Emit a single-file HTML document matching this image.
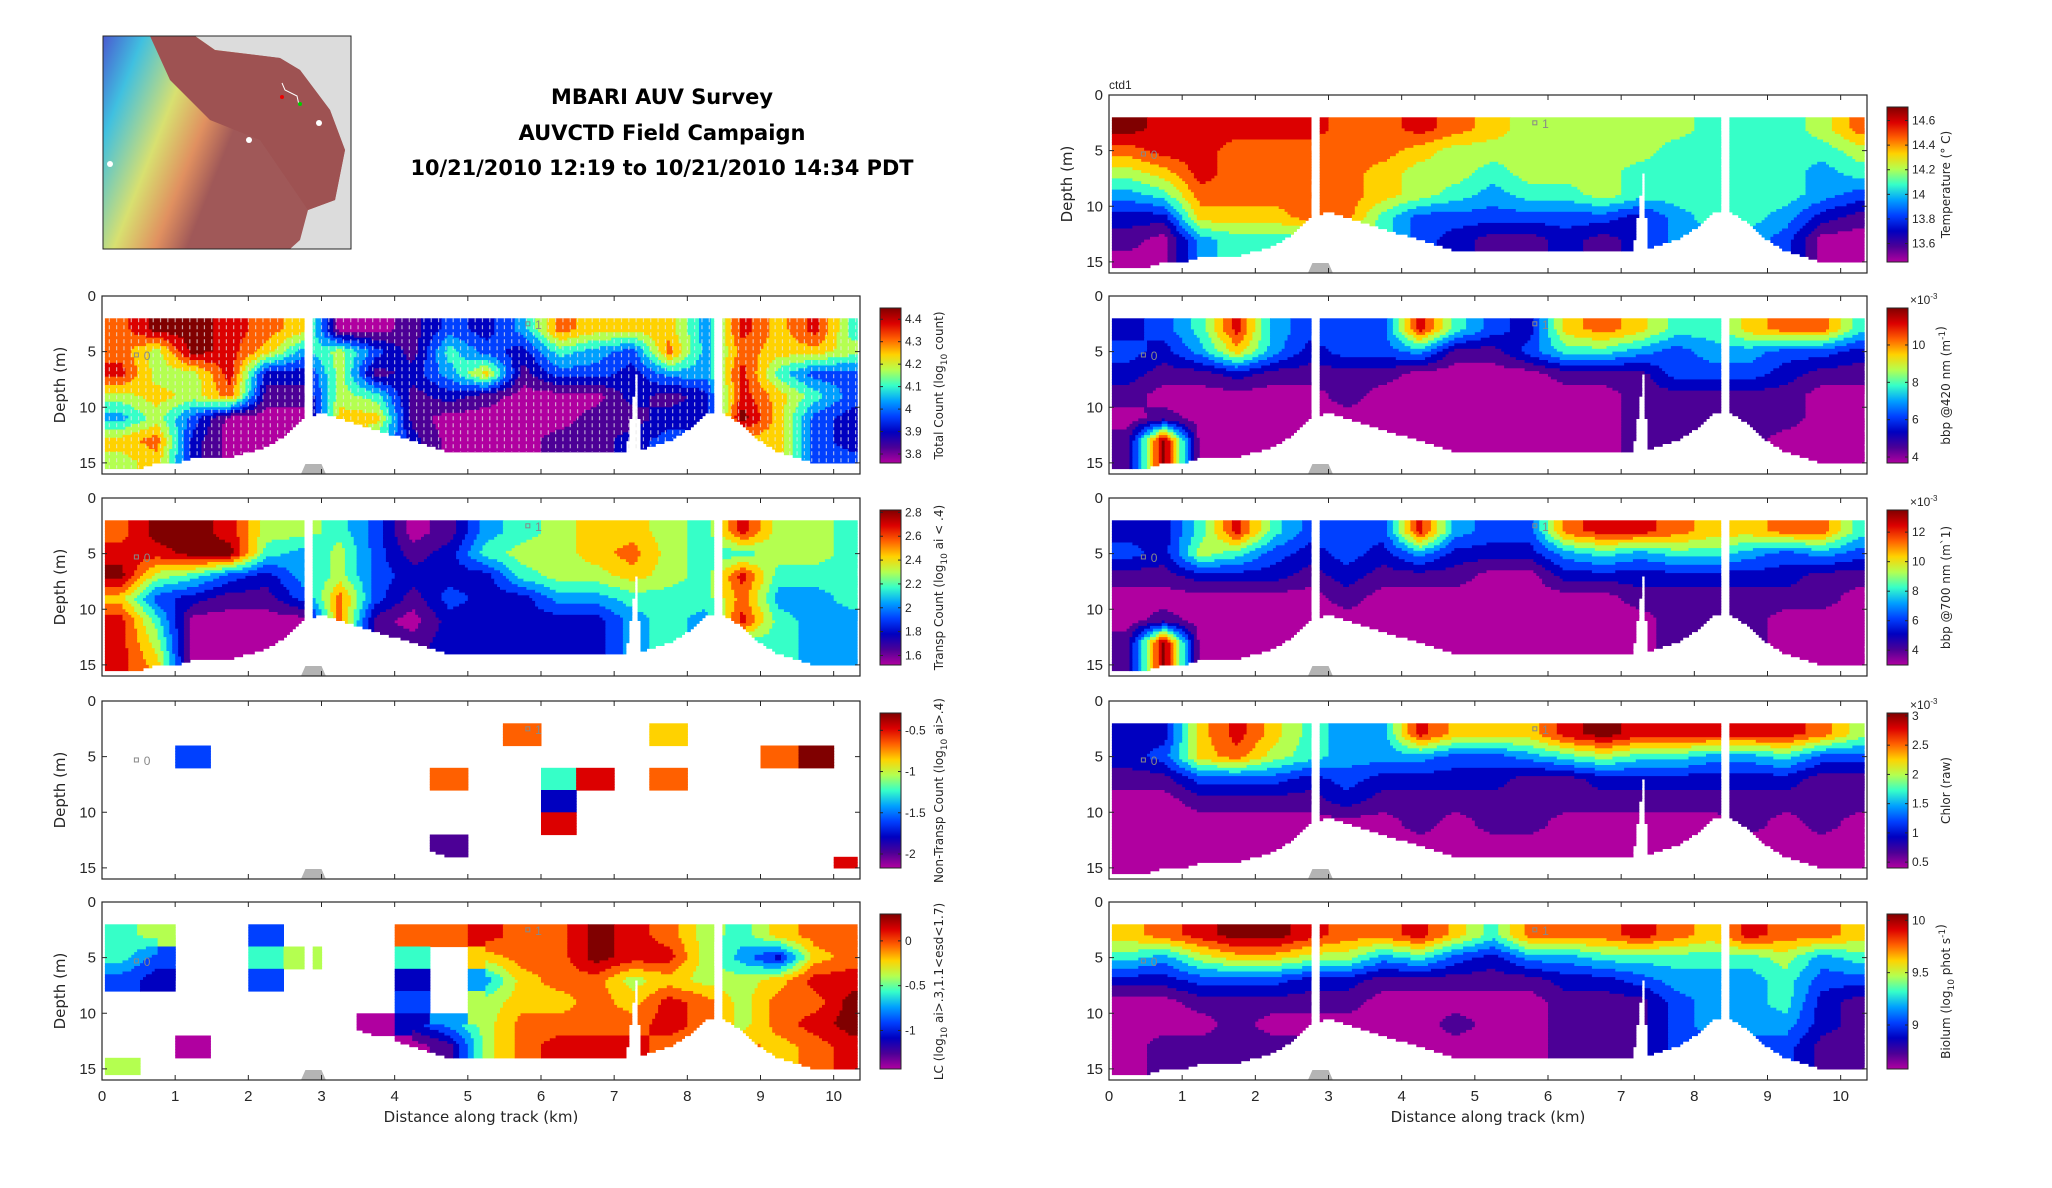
<!DOCTYPE html>
<html><head><meta charset="utf-8">
<style>
html,body{margin:0;padding:0;background:#fff;}
svg{display:block;}
.tk{font-family:"Liberation Sans Narrow","Liberation Sans",sans-serif;font-size:15px;fill:#262626;}
.ct{font-family:"Liberation Sans Narrow","Liberation Sans",sans-serif;font-size:12px;fill:#262626;}
.lb{font-family:"DejaVu Sans","Liberation Sans",sans-serif;font-size:15px;fill:#262626;}
.cl{font-family:"DejaVu Sans","Liberation Sans",sans-serif;font-size:12px;fill:#262626;}
.ti{font-family:"DejaVu Sans","Liberation Sans",sans-serif;font-size:21px;font-weight:bold;fill:#000;}
</style></head>
<body>
<svg id="fig" width="2052" height="1188" viewBox="0 0 2052 1188" xmlns="http://www.w3.org/2000/svg">
<rect width="2052" height="1188" fill="#fff"/>
<g>
  <defs>
    <linearGradient id="mapg" x1="0" y1="0" x2="1" y2="0.35">
      <stop offset="0" stop-color="#4a5ad0"/><stop offset="0.15" stop-color="#40c0e0"/>
      <stop offset="0.35" stop-color="#d8e070"/><stop offset="0.5" stop-color="#e09060"/>
      <stop offset="0.62" stop-color="#a05858"/><stop offset="1" stop-color="#a05858"/>
    </linearGradient>
  </defs>
  <rect x="103" y="36" width="248" height="213" fill="#dcdcdc"/>
  <path d="M103,36 L195,36 L215,50 L280,58 L300,70 L330,110 L345,150 L335,200 L308,210 L300,240 L290,249 L103,249 Z" fill="url(#mapg)"/>
  <path d="M150,36 L195,36 L215,50 L280,58 L300,70 L330,110 L345,150 L335,200 L308,210 L260,140 L210,120 L170,80 Z" fill="#9e5252"/>
  <rect x="103" y="36" width="248" height="213" fill="none" stroke="#262626" stroke-width="1"/>
  <polyline points="282,83 285,90 297,96 299,105" fill="none" stroke="#fff" stroke-width="1"/>
  <circle cx="282" cy="97" r="2" fill="#e00"/><circle cx="300" cy="104" r="2" fill="#0c0"/>
  <circle cx="319" cy="123" r="3" fill="#fff"/><circle cx="249" cy="140" r="3" fill="#fff"/><circle cx="110" cy="164" r="3" fill="#fff"/>
</g>
<g>
  <text class="ti" x="662" y="104" text-anchor="middle" textLength="222" lengthAdjust="spacingAndGlyphs">MBARI AUV Survey</text>
  <text class="ti" x="662" y="140" text-anchor="middle" textLength="287" lengthAdjust="spacingAndGlyphs">AUVCTD Field Campaign</text>
  <text class="ti" x="662" y="175" text-anchor="middle" textLength="503" lengthAdjust="spacingAndGlyphs">10/21/2010 12:19 to 10/21/2010 14:34 PDT</text>
</g>
<g id="plots"></g>
</svg>
<script>
// ---- shared axis data ----
const xTicks = [0,1,2,3,4,5,6,7,8,9,10];
const yTicks = [0,5,10,15];
const xMax = 10.36, yMax = 16;
const colX = [0.25,0.75,1.25,1.75,2.25,2.75,3.25,3.75,4.25,4.75,5.25,5.75,6.25,6.75,7.25,7.75,8.25,8.75,9.25,9.75,10.25];
const rowZ = [3,5,7,9,11,13,15];
const bottomX = [0,0.25,0.5,0.75,1,1.25,1.5,1.75,2,2.25,2.5,2.75,3,3.25,3.5,3.75,4,4.25,4.5,4.75,5,6,7,7.25,7.5,7.75,8,8.25,8.5,8.75,9,9.25,9.5,9.75,10,10.5];
const bottomZ = [15.5,15.5,15.5,15,15,14.5,14.5,14.5,14,13.5,12.5,11,10.5,11,11.5,12,12.5,13,13.5,14,14,14,14,14,13.5,13,12,10.5,10.5,11.5,13,14,14.5,15,15,15];
const palette = ["#b000a0","#4c0096","#0000c0","#0040ff","#00a0ff","#36ffc8","#b4ff50","#ffd200","#ff6000","#dc0000","#800000"];

// ---- panel values (color level 0..10, -1 = no data) ----
const totalCount = [
[8,10,10,9,8,7,0,0,1,3,2,4,8,7,7,7,4,9,7,9,5],
[8,6,10,9,7,4,6,3,1,5,3,2,5,4,3,8,4,8,7,7,6],
[9,6,6,9,2,2,6,1,2,4,7,1,3,3,2,4,4,9,5,3,3],
[6,7,6,8,1,1,6,5,1,2,1,0,0,0,2,1,2,9,7,5,3],
[4,6,3,0,0,0,7,7,1,0,0,0,0,1,1,2,2,10,7,3,2],
[7,8,2,0,0,0,7,5,2,0,0,0,1,1,2,3,3,7,7,3,2],
[6,7,2,0,0,0,7,5,2,0,0,0,1,1,2,3,3,7,7,3,3]];
const transpCount = [
[8,10,10,9,6,6,5,3,0,1,4,5,6,7,7,6,5,9,6,6,5],
[9,9,10,10,5,4,6,3,1,2,5,6,6,7,8,6,5,5,6,6,5],
[10,6,5,3,2,4,6,3,2,2,2,5,6,6,7,6,5,9,5,5,5],
[7,3,2,1,1,3,8,3,1,3,2,2,4,4,5,5,5,8,4,4,5],
[9,5,0,0,0,0,8,1,0,2,2,2,2,2,4,5,4,9,5,4,4],
[9,6,0,0,0,0,8,1,1,2,2,2,2,2,4,5,4,5,5,4,4],
[9,7,0,0,0,0,8,1,1,2,2,2,2,2,4,5,4,5,5,4,4]];
const nonTranspCount = [
[-1,-1,-1,-1,-1,-1,-1,-1,-1,-1,-1,8,-1,-1,-1,7,-1,-1,-1,-1,-1],
[-1,-1,3,-1,-1,-1,-1,-1,-1,-1,-1,-1,-1,-1,-1,-1,-1,-1,8,10,-1],
[-1,-1,-1,-1,-1,-1,-1,-1,-1,8,-1,-1,5,9,-1,8,-1,-1,-1,-1,-1],
[-1,-1,-1,-1,-1,-1,-1,-1,-1,-1,-1,-1,2,-1,-1,-1,-1,-1,-1,-1,-1],
[-1,-1,-1,-1,-1,-1,-1,-1,-1,-1,-1,-1,9,-1,-1,-1,-1,-1,-1,-1,-1],
[-1,-1,-1,-1,-1,-1,-1,-1,-1,1,-1,-1,-1,-1,-1,-1,-1,-1,-1,-1,-1],
[-1,-1,-1,-1,-1,-1,-1,-1,-1,-1,-1,-1,-1,-1,-1,-1,-1,-1,-1,-1,9]];
const lcCount = [
[5,6,-1,-1,3,-1,-1,-1,8,8,9,8,8,10,9,8,6,5,7,8,8],
[5,3,-1,-1,5,6,-1,-1,5,-1,7,8,8,10,9,9,6,4,2,7,8],
[3,2,-1,-1,3,-1,-1,-1,2,-1,4,7,8,8,6,7,6,6,7,9,9],
[-1,-1,-1,-1,-1,-1,-1,-1,3,-1,6,7,7,8,7,9,8,6,8,8,10],
[-1,-1,-1,-1,-1,-1,-1,0,2,4,6,8,8,8,8,9,8,6,8,9,10],
[-1,-1,0,-1,-1,-1,-1,-1,0,1,6,8,9,9,9,8,8,8,7,8,9],
[6,-1,-1,-1,-1,-1,-1,-1,0,1,6,8,9,9,9,8,8,8,7,8,9]];
const temperature = [
[10,9,9,9,9,9,8,8,9,8,7,6,6,6,6,6,5,5,5,6,8],
[8,9,9,8,8,8,8,8,7,6,6,6,6,6,6,5,5,5,5,5,6],
[6,7,9,8,8,8,8,7,6,6,5,6,6,6,5,5,5,5,5,4,5],
[4,5,8,8,8,8,8,7,6,5,4,5,5,6,5,5,5,5,5,4,3],
[2,2,7,7,7,8,8,5,3,3,3,3,3,3,2,4,5,5,4,2,1],
[1,0,4,5,5,5,5,5,3,2,1,1,2,1,2,4,4,4,3,0,0],
[0,0,4,5,5,5,5,5,3,2,1,1,2,1,2,4,4,4,3,0,0]];
const bbp420 = [
[2,3,5,9,4,3,3,3,9,5,3,2,7,8,7,5,5,7,8,8,5],
[3,2,4,7,4,2,3,3,4,1,1,3,5,5,4,3,4,4,3,3,2],
[2,1,1,2,1,1,1,1,0,0,0,0,1,1,1,3,3,3,2,1,1],
[1,0,0,0,0,0,1,0,0,0,0,0,0,0,1,1,1,1,1,0,0],
[0,1,0,0,0,0,0,0,0,0,0,0,0,0,1,1,1,1,1,0,0],
[1,10,0,0,0,0,0,0,0,0,0,0,0,0,1,1,1,1,0,0,0],
[1,10,0,0,0,0,0,0,0,0,0,0,0,0,1,1,1,1,0,0,0]];
const bbp700 = [
[2,2,5,9,5,3,3,3,9,4,3,3,8,9,9,8,7,7,8,8,5],
[3,2,6,5,3,2,3,2,4,2,2,2,4,5,4,5,5,4,3,4,3],
[1,1,2,2,2,1,2,1,1,1,0,0,2,2,2,2,2,2,2,1,1],
[0,0,0,0,0,0,1,0,0,0,0,0,0,0,1,1,1,1,1,1,0],
[0,1,0,0,0,0,0,0,0,0,0,0,0,0,0,1,1,1,0,0,0],
[1,10,0,0,0,0,0,0,0,0,0,0,0,0,0,1,1,1,0,0,0],
[1,10,0,0,0,0,0,0,0,0,0,0,0,0,0,1,1,1,0,0,0]];
const chlor = [
[2,2,7,9,7,5,4,4,9,7,7,7,9,10,9,9,9,9,9,8,6],
[2,3,7,8,6,5,4,4,4,3,3,4,5,6,5,5,4,4,5,3,3],
[1,1,3,3,3,2,3,2,2,2,2,1,1,2,2,2,2,2,2,1,1],
[0,0,1,1,1,1,2,1,1,1,1,1,1,1,1,1,1,1,1,1,1],
[0,0,0,0,0,0,0,0,1,0,1,1,0,0,0,0,0,1,0,1,0],
[0,0,0,0,0,0,0,0,0,0,0,0,0,0,0,0,0,0,0,0,0],
[0,0,0,0,0,0,0,0,0,0,0,0,0,0,0,0,0,0,0,0,0]];
const biolum = [
[7,8,9,10,10,9,8,8,9,7,5,8,8,8,9,8,7,9,8,8,7],
[5,4,6,7,7,6,6,4,5,3,2,4,4,5,5,5,5,5,6,4,5],
[2,2,3,3,3,2,2,1,1,1,1,1,2,2,3,4,4,4,5,3,3],
[0,0,1,1,1,1,1,0,0,0,0,0,1,1,1,3,4,4,5,2,1],
[0,0,0,1,0,0,0,0,0,1,0,0,1,1,1,3,4,4,4,2,1],
[0,1,1,1,1,1,0,0,0,0,0,0,1,1,1,3,3,3,3,1,1],
[0,1,1,1,1,1,0,0,0,0,0,0,1,1,1,3,3,3,3,1,1]];

// ---- colorbar tick labels ----
const cbTotal = ["3.8","3.9","4","4.1","4.2","4.3","4.4"];
const cbTransp = ["1.6","1.8","2","2.2","2.4","2.6","2.8"];
const cbNonTransp = ["-2","-1.5","-1","-0.5"];
const cbLC = ["-1","-0.5","0"];
const cbTemp = ["13.6","13.8","14","14.2","14.4","14.6"];
const cbB420 = ["4","6","8","10"];
const cbB700 = ["4","6","8","10","12"];
const cbChl = ["0.5","1","1.5","2","2.5","3"];
const cbBio = ["9","9.5","10"];

const NS = "http://www.w3.org/2000/svg";
const root = document.getElementById('plots');
function mk(tag, attrs, parent){const e=document.createElementNS(NS,tag);for(const k in attrs)e.setAttribute(k,attrs[k]);(parent||root).appendChild(e);return e;}

function bottomAt(x){
  for(let i=0;i<bottomX.length-1;i++){if(x<=bottomX[i+1]){const t=(x-bottomX[i])/(bottomX[i+1]-bottomX[i]);return bottomZ[i]+t*(bottomZ[i+1]-bottomZ[i]);}}
  return bottomZ[bottomZ.length-1];
}
function hasData(x,z){
  if(z<2||x<0.05||x>10.3) return false;
  if(z>bottomAt(x)) return false;
  if(x>2.76&&x<2.87) return false;
  if(x>8.36&&x<8.47) return false;
  if(z>7){const w=0.14*(z-7)/7;if(x>7.3-w&&x<7.3+w*0.5) return false;}
  return true;
}
function sample(grid,x,z){
  let fi=(x-colX[0])/0.5, fj=(z-rowZ[0])/2;
  fi=Math.max(0,Math.min(colX.length-1,fi)); fj=Math.max(0,Math.min(rowZ.length-1,fj));
  const i0=Math.floor(fi), j0=Math.floor(fj), i1=Math.min(i0+1,colX.length-1), j1=Math.min(j0+1,rowZ.length-1);
  const a=grid[j0][i0],b=grid[j0][i1],c=grid[j1][i0],d=grid[j1][i1];
  if(a<0||b<0||c<0||d<0){const ni=Math.round(fi),nj=Math.round(fj);return grid[nj][ni];}
  const tx=fi-i0,ty=fj-j0;
  return (a*(1-tx)+b*tx)*(1-ty)+(c*(1-tx)+d*tx)*ty;
}

function panel(opt){
  const {x0,y0,grid,name,cbLabels,cbMin,cbMax,cbTitle,depthLabel,xLabels,dots,exp} = opt;
  const W=758,H=178;
  const g=mk('g',{});
  
  
  const sx=v=>x0+v/xMax*W, sy=v=>y0+v/yMax*H;
  const hm=mk('g',{},g);
  
  
  const dx=0.04, dz=0.25;
  for(let z=0; z<yMax; z+=dz){
    let runStart=null, runCol=null;
    const flush=(xe)=>{ if(runCol!==null){const r=mk('rect',{x:sx(runStart).toFixed(1),y:sy(z).toFixed(1),width:(sx(xe)-sx(runStart)+0.6).toFixed(1),height:(sy(z+dz)-sy(z)+0.6).toFixed(1),fill:runCol},hm);
      
      } runCol=null;};
    for(let x=0; x<xMax; x+=dx){
      const xc=x+dx/2, zc=z+dz/2;
      let col=null;
      if(hasData(xc,zc)){const v=sample(grid,xc,zc); if(v>=0) col=palette[Math.max(0,Math.min(10,Math.round(v)))];}
      if(col!==runCol){flush(x); if(col!==null){runStart=x;runCol=col;}}
    }
    flush(xMax);
  }
  if(dots){
    for(let x=0.1;x<10.3;x+=0.1){
      if(!hasData(x,3)) continue;
      const l=mk('line',{x1:sx(x),x2:sx(x),y1:sy(2),y2:sy(bottomAt(x)),stroke:'#e8e8e8','stroke-width':1.2,'stroke-dasharray':'4,3',opacity:0.7},g);
      
      
    }
  }
  const sf=mk('path',{d:`M${sx(2.72)},${sy(16)} L${sx(2.78)},${sy(15.1)} L${sx(3.0)},${sy(15.1)} L${sx(3.06)},${sy(16)} Z`,fill:'#b4b4b4'},g);
  
  
  mk('rect',{x:sx(0.47)-2,y:sy(5.3)-2,width:4,height:4,fill:'none',stroke:'#888'},g);
  const m0=mk('text',{x:sx(0.57),y:sy(5.3)+5,class:'ct',style:'fill:#888'},g); m0.textContent='0';
  
  
  mk('rect',{x:sx(5.82)-2,y:sy(2.5)-2,width:4,height:4,fill:'none',stroke:'#888'},g);
  const m1=mk('text',{x:sx(5.92),y:sy(2.5)+5,class:'ct',style:'fill:#888'},g); m1.textContent='1';
  
  
  const fr=mk('rect',{x:x0,y:y0,width:W,height:H,fill:'none',stroke:'#262626','stroke-width':1.2},g);
  
  
  for(const t of xTicks){
    mk('line',{x1:sx(t),x2:sx(t),y1:y0,y2:y0+5,stroke:'#262626'},g);
    mk('line',{x1:sx(t),x2:sx(t),y1:y0+H,y2:y0+H-5,stroke:'#262626'},g);
    if(xLabels){const tl=mk('text',{x:sx(t),y:y0+H+21,class:'tk','text-anchor':'middle'},g);tl.textContent=t;
      
      }
  }
  for(const t of yTicks){
    mk('line',{x1:x0,x2:x0+5,y1:sy(t),y2:sy(t),stroke:'#262626'},g);
    mk('line',{x1:x0+W,x2:x0+W-5,y1:sy(t),y2:sy(t),stroke:'#262626'},g);
    const tl=mk('text',{x:x0-6,y:sy(t)+5,class:'tk','text-anchor':'end'},g);tl.textContent=t;
    
    
  }
  if(depthLabel){const yl=mk('text',{x:0,y:0,class:'lb','text-anchor':'middle',transform:`translate(${x0-37},${y0+H/2}) rotate(-90)`},g);yl.textContent='Depth (m)';
    
    }
  if(xLabels){const xl=mk('text',{x:x0+W/2,y:y0+H+42,class:'lb','text-anchor':'middle'},g);xl.textContent='Distance along track (km)';
    
    }
  const cx=x0+W+20, cy=y0+12, cw=21, ch=155;
  const gid='cg'+name;
  const defs=mk('defs',{},g); const lg=mk('linearGradient',{id:gid,x1:0,y1:1,x2:0,y2:0},defs);
  palette.forEach((c,i)=>mk('stop',{offset:i/(palette.length-1),'stop-color':c},lg));
  const cb=mk('rect',{x:cx,y:cy,width:cw,height:ch,fill:`url(#${gid})`,stroke:'#262626','stroke-width':1},g);
  
  
  for(const s of cbLabels){
    const v=parseFloat(s), yy=cy+ch*(cbMax-v)/(cbMax-cbMin);
    mk('line',{x1:cx,x2:cx+3,y1:yy,y2:yy,stroke:'#262626'},g);
    mk('line',{x1:cx+cw,x2:cx+cw-3,y1:yy,y2:yy,stroke:'#262626'},g);
    const t=mk('text',{x:cx+cw+4,y:yy+4,class:'ct'},g); t.textContent=s;
    
    
  }
  if(exp){const e=mk('text',{x:cx+cw+2,y:cy-4,class:'ct','font-size':'10'},g);e.innerHTML='×10<tspan dy="-5" font-size="8">-3</tspan>';
    
    }
  const ct=mk('text',{x:0,y:0,class:'cl','text-anchor':'middle',transform:`translate(${cx+cw+42},${cy+ch/2}) rotate(-90)`},g);
  ct.innerHTML=cbTitle;
  
  
}
const sub=s=>`<tspan dy="4" font-size="9">${s}</tspan><tspan dy="-4"> </tspan>`;
const sup=s=>`<tspan dy="-5" font-size="9">${s}</tspan><tspan dy="5"></tspan>`;
const LX=102, RX=1109;
panel({x0:LX,y0:296,grid:totalCount,name:'total-count',cbLabels:cbTotal,cbMin:3.76,cbMax:4.45,cbTitle:`Total Count (log${sub('10')}count)`,depthLabel:true,dots:true});
panel({x0:LX,y0:498,grid:transpCount,name:'transp-count',cbLabels:cbTransp,cbMin:1.52,cbMax:2.82,cbTitle:`Transp Count (log${sub('10')}ai &lt; .4)`,depthLabel:true});
panel({x0:LX,y0:701,grid:nonTranspCount,name:'non-transp-count',cbLabels:cbNonTransp,cbMin:-2.17,cbMax:-0.29,cbTitle:`Non-Transp Count (log${sub('10')}ai&gt;.4)`,depthLabel:true});
panel({x0:LX,y0:902,grid:lcCount,name:'lc-count',cbLabels:cbLC,cbMin:-1.43,cbMax:0.3,cbTitle:`LC (log${sub('10')}ai&gt;.3,1.1&lt;esd&lt;1.7)`,depthLabel:true,xLabels:true});
panel({x0:RX,y0:95,grid:temperature,name:'temperature',cbLabels:cbTemp,cbMin:13.45,cbMax:14.71,cbTitle:'Temperature (° C)',depthLabel:true});
panel({x0:RX,y0:296,grid:bbp420,name:'bbp420',cbLabels:cbB420,cbMin:3.68,cbMax:11.98,cbTitle:`bbp @420 nm (m${sup('-1')})`,exp:true});
panel({x0:RX,y0:498,grid:bbp700,name:'bbp700',cbLabels:cbB700,cbMin:3.0,cbMax:13.5,cbTitle:'bbp @700 nm (m`1)',exp:true});
panel({x0:RX,y0:701,grid:chlor,name:'chlor',cbLabels:cbChl,cbMin:0.4,cbMax:3.05,cbTitle:'Chlor (raw)',exp:true});
panel({x0:RX,y0:902,grid:biolum,name:'biolum',cbLabels:cbBio,cbMin:8.58,cbMax:10.06,cbTitle:`Biolum (log${sub('10')}phot s${sup('-1')})`,xLabels:true});
const ctd=mk('text',{x:1109,y:89,class:'ct','font-size':'11'});ctd.textContent='ctd1';


</script>
</body></html>
